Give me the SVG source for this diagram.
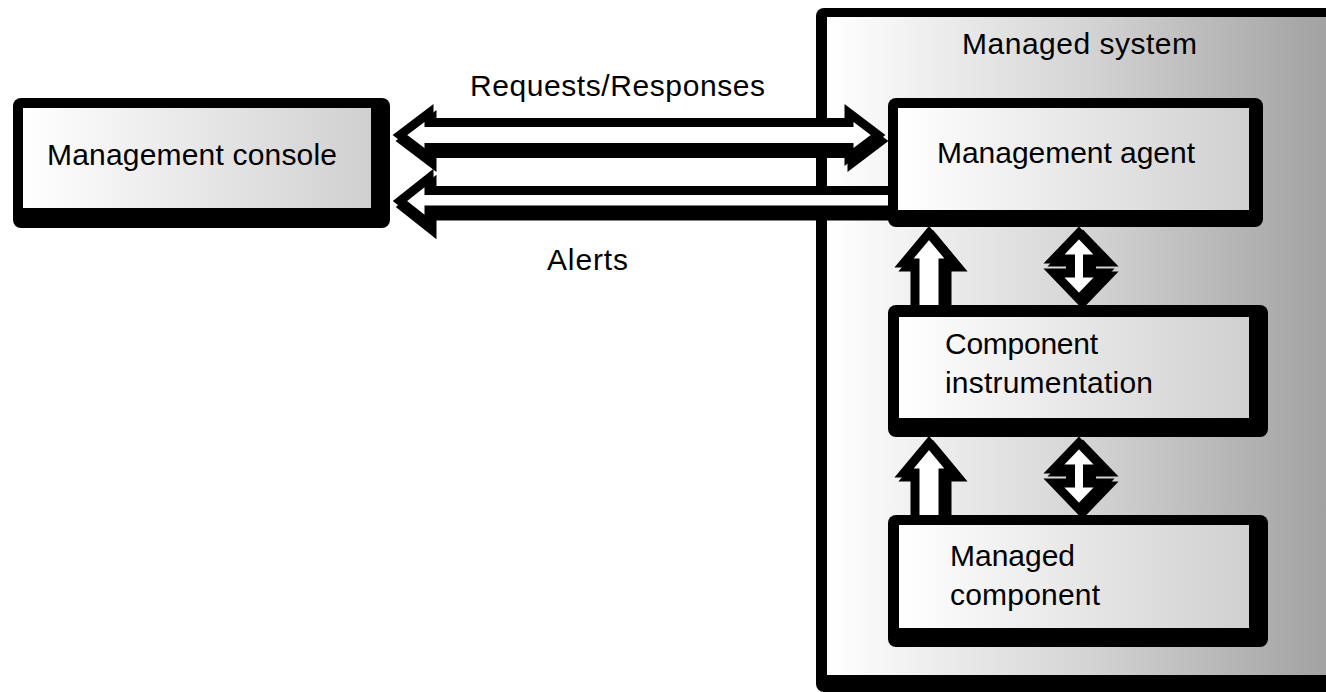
<svg xmlns="http://www.w3.org/2000/svg" width="1326" height="692" viewBox="0 0 1326 692">
  <defs>
    <linearGradient id="gSys" gradientUnits="userSpaceOnUse" x1="827" y1="0" x2="1326" y2="0">
      <stop offset="0" stop-color="#ffffff"/>
      <stop offset="0.5" stop-color="#d6d6d6"/>
      <stop offset="1" stop-color="#a2a2a2"/>
    </linearGradient>
    <linearGradient id="gBox" x1="0" y1="0" x2="1" y2="0">
      <stop offset="0" stop-color="#ffffff"/>
      <stop offset="1" stop-color="#d0d0d0"/>
    </linearGradient>
    <style>
      .outer { fill: #000; }
      .inner { fill: url(#gBox); }
      .arrow { fill: #fff; stroke: #000; stroke-width: 9; stroke-linejoin: miter; stroke-miterlimit: 10; }
      .shadow { fill: #000; stroke: #000; stroke-width: 9; stroke-linejoin: miter; stroke-miterlimit: 10; }
      text { font-family: "Liberation Sans", Arial, sans-serif; font-size: 30px; fill: #000; }
    </style>
  </defs>

  <rect x="0" y="0" width="1326" height="692" fill="#ffffff"/>

  <g id="managed-system">
    <rect class="outer" x="816" y="8" width="530" height="684" rx="8"/>
    <rect x="827" y="17" width="520" height="658" fill="url(#gSys)"/>
    <text x="962" y="54" textLength="235">Managed system</text>
  </g>

  <g id="connectors">
    <!-- Requests/Responses double arrow -->
    <path class="shadow" transform="translate(3,6)" d="M400,135 L429,113 L429,122.5 L849,122.5 L849,113 L878,135 L849,157 L849,147.5 L429,147.5 L429,157 Z"/>
    <path class="arrow" d="M400,135 L429,113 L429,122.5 L849,122.5 L849,113 L878,135 L849,157 L849,147.5 L429,147.5 L429,157 Z"/>
    <!-- Alerts arrow -->
    <path class="shadow" transform="translate(3,6)" d="M400,201 L429,178 L429,190.5 L895,190.5 L895,210 L429,210 L429,224 Z"/>
    <path class="arrow" d="M400,201 L429,178 L429,190.5 L895,190.5 L895,210 L429,210 L429,224 Z"/>
    <!-- up arrow instrumentation -> agent -->
    <path class="shadow" transform="translate(4,4)" d="M929,233 L954,263 L943,263 L943,315 L915,315 L915,263 L904,263 Z"/>
    <path class="arrow" d="M929,233 L954,263 L943,263 L943,315 L915,315 L915,263 L904,263 Z"/>
    <!-- double arrow agent <-> instrumentation -->
    <path class="shadow" transform="translate(4,3)" d="M1079,233 L1104,259 L1087.5,259 L1087.5,273 L1104,273 L1079,299 L1054,273 L1070.5,273 L1070.5,259 L1054,259 Z"/>
    <path class="arrow" d="M1079,233 L1104,259 L1087.5,259 L1087.5,273 L1104,273 L1079,299 L1054,273 L1070.5,273 L1070.5,259 L1054,259 Z"/>
    <!-- up arrow component -> instrumentation -->
    <path class="shadow" transform="translate(4,4)" d="M929,443 L954,473 L943,473 L943,525 L915,525 L915,473 L904,473 Z"/>
    <path class="arrow" d="M929,443 L954,473 L943,473 L943,525 L915,525 L915,473 L904,473 Z"/>
    <!-- double arrow instrumentation <-> component -->
    <path class="shadow" transform="translate(4,3)" d="M1079,443 L1104,469 L1087.5,469 L1087.5,483 L1104,483 L1079,509 L1054,483 L1070.5,483 L1070.5,469 L1054,469 Z"/>
    <path class="arrow" d="M1079,443 L1104,469 L1087.5,469 L1087.5,483 L1104,483 L1079,509 L1054,483 L1070.5,483 L1070.5,469 L1054,469 Z"/>
  </g>

  <g id="management-console">
    <rect class="outer" x="13" y="98" width="377" height="130" rx="8"/>
    <rect class="inner" x="23" y="108" width="348" height="100"/>
    <text x="47" y="165" textLength="290">Management console</text>
  </g>

  <g id="management-agent">
    <rect class="outer" x="888" y="98" width="375" height="129" rx="8"/>
    <rect class="inner" x="898" y="108" width="351" height="102"/>
    <text x="937" y="163" textLength="258">Management agent</text>
  </g>

  <g id="component-instrumentation">
    <rect class="outer" x="888" y="305" width="380" height="132" rx="8"/>
    <rect class="inner" x="899" y="317" width="350" height="101"/>
    <text x="945" y="354" textLength="153">Component</text>
    <text x="945" y="393" textLength="208">instrumentation</text>
  </g>

  <g id="managed-component">
    <rect class="outer" x="888" y="515" width="380" height="132" rx="8"/>
    <rect class="inner" x="899" y="525" width="350" height="103"/>
    <text x="950" y="566" textLength="125">Managed</text>
    <text x="950" y="605" textLength="150">component</text>
  </g>

  <g id="labels">
    <text x="470" y="96" textLength="295">Requests/Responses</text>
    <text x="547" y="270" textLength="81">Alerts</text>
  </g>
</svg>
